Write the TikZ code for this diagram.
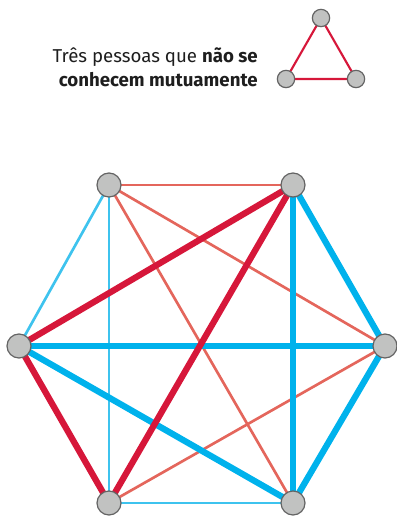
\documentclass[tikz,border=0pt]{standalone}
\usepackage{fontspec}
\setmainfont{Fira Sans}
\definecolor{crim}{HTML}{D6173A}
\definecolor{sky}{HTML}{00B2EC}
\definecolor{lsky}{HTML}{3EC3EE}
\definecolor{salm}{HTML}{E4665C}
\definecolor{nodefill}{HTML}{C1C2C1}
\definecolor{nodeline}{HTML}{646464}
\definecolor{txt}{HTML}{1E1E1E}
\tikzset{
  person/.style={circle,draw=nodeline,fill=nodefill,line width=0.9pt,minimum size=18pt,inner sep=0pt},
  smallperson/.style={circle,draw=nodeline,fill=nodefill,line width=0.9pt,minimum size=13pt,inner sep=0pt},
  thinred/.style={draw=salm,line width=2pt},
  thinblue/.style={draw=lsky,line width=2pt},
  thickred/.style={draw=crim,line width=4.7pt},
  thickblue/.style={draw=sky,line width=4.7pt},
  legendline/.style={draw=crim,line width=1.6pt},
}
\begin{document}
\begin{tikzpicture}[x=0.75pt,y=-0.75pt]
\useasboundingbox (0,0) rectangle (396,516);
% coordinates
\coordinate (pTL) at (109,185);
\coordinate (pTR) at (293,185);
\coordinate (pL) at (19,346);
\coordinate (pR) at (385,346);
\coordinate (pBL) at (109,503);
\coordinate (pBR) at (293,503);
% thin edges
\draw[thinred] (pTL) -- (pTR);
\draw[thinred] (pTL) -- (pBR);
\draw[thinred] (pTL) -- (pR);
\draw[thinred] (pR) -- (pBL);
\draw[thinblue] (pTL) -- (pL);
\draw[thinblue] (pTL) -- (pBL);
\draw[thinblue] (pBL) -- (pBR);
% thick edges
\draw[thickblue] (pL) -- (pR);
\draw[thickblue] (pL) -- (pBR);
\draw[thickblue] (pTR) -- (pBR);
\draw[thickblue] (pTR) -- (pR);
\draw[thickblue] (pR) -- (pBR);
\draw[thickred] (pTR) -- (pL);
\draw[thickred] (pTR) -- (pBL);
\draw[thickred] (pL) -- (pBL);
% nodes
\node[person] (TL) at (pTL) {};
\node[person] (TR) at (pTR) {};
\node[person] (L) at (pL) {};
\node[person] (R) at (pR) {};
\node[person] (BL) at (pBL) {};
\node[person] (BR) at (pBR) {};
% legend
\coordinate (lt) at (321,18);
\coordinate (ll) at (286,79);
\coordinate (lr) at (356,79);
\draw[legendline] (lt) -- (ll) -- (lr) -- cycle;
\node[smallperson] (LT) at (lt) {};
\node[smallperson] (LL) at (ll) {};
\node[smallperson] (LR) at (lr) {};
\node[anchor=base east,align=right,font=\fontsize{14pt}{18pt}\selectfont,text=txt,inner sep=0pt] (caption) at (258,87)
  {Três pessoas que \textbf{não se}\\\textbf{conhecem mutuamente}};
\end{tikzpicture}
\end{document}
